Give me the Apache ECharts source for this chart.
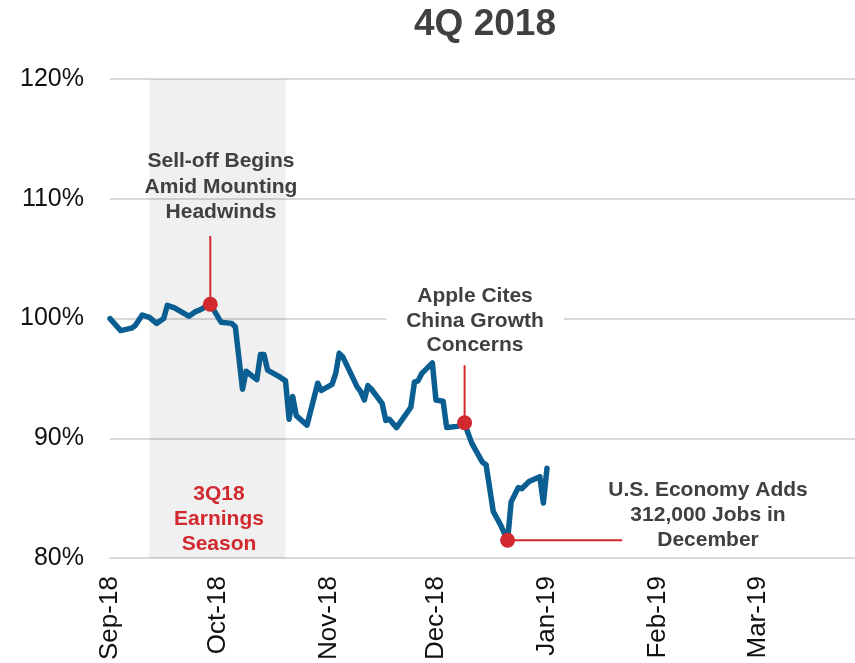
<!DOCTYPE html>
<html>
<head>
<meta charset="utf-8">
<script src="https://cdn.jsdelivr.net/npm/echarts@6/dist/echarts.min.js"></script>
<style>
  html, body { margin: 0; padding: 0; background: #ffffff; }
  #chart { width: 855px; height: 663px; }
</style>
</head>
<body>
<div id="chart"></div>
<script>
// Index level, rebased to 100% at the start of the period
const dates = [
  '2018-09-01', '2018-09-04', '2018-09-07', '2018-09-08', '2018-09-10', '2018-09-12',
  '2018-09-14', '2018-09-16', '2018-09-17', '2018-09-19', '2018-09-23', '2018-09-25',
  '2018-09-26', '2018-09-29', '2018-10-02', '2018-10-05', '2018-10-06', '2018-10-08',
  '2018-10-09', '2018-10-12', '2018-10-13', '2018-10-14', '2018-10-15', '2018-10-18',
  '2018-10-20', '2018-10-21', '2018-10-22', '2018-10-23', '2018-10-26', '2018-10-29',
  '2018-10-30', '2018-11-02', '2018-11-03', '2018-11-04', '2018-11-05', '2018-11-09',
  '2018-11-10', '2018-11-11', '2018-11-12', '2018-11-13', '2018-11-16', '2018-11-17',
  '2018-11-18', '2018-11-20', '2018-11-24', '2018-11-25', '2018-11-26', '2018-11-27',
  '2018-11-30', '2018-12-01', '2018-12-03', '2018-12-04', '2018-12-07', '2018-12-09',
  '2018-12-10', '2018-12-11', '2018-12-14', '2018-12-15', '2018-12-17', '2018-12-19',
  '2018-12-21', '2018-12-22', '2018-12-24', '2018-12-25', '2018-12-27', '2018-12-30',
  '2018-12-31', '2019-01-01'
];
const values = [
  100.0, 99.0, 99.2, 99.4, 100.3, 100.1,
  99.6, 100.0, 101.1, 100.9, 100.2, 100.6,
  100.7, 101.2, 99.7, 99.6, 99.3, 94.1,
  95.6, 94.9, 97.0, 97.0, 95.7, 95.2,
  94.8, 91.6, 93.5, 91.9, 91.1, 94.6,
  94.0, 94.5, 95.4, 97.1, 96.8, 94.3,
  93.9, 93.2, 94.4, 94.1, 92.9, 91.5,
  91.6, 90.9, 92.6, 94.7, 94.8, 95.4,
  96.3, 93.2, 93.1, 90.9, 91.0, 91.3,
  90.4, 89.6, 88.0, 87.8, 83.9, 82.8,
  81.5, 84.7, 85.9, 85.8, 86.4, 86.8,
  84.6, 87.5
];

// Month ticks on the date axis
const monthTicks = ['2018-09-01', '2018-10-01', '2018-11-01', '2018-12-01', '2019-01-01', '2019-02-01', '2019-03-01'];
const monthNames = ['Jan', 'Feb', 'Mar', 'Apr', 'May', 'Jun', 'Jul', 'Aug', 'Sep', 'Oct', 'Nov', 'Dec'];

// Value axis ticks (percent)
const yTicks = [80, 90, 100, 110, 120];

// Earnings season window
const seasonStart = '2018-09-12';
const seasonEnd = '2018-10-20';

// Highlighted events and where their leader lines end
const eventDates = ['2018-09-29', '2018-12-09', '2018-12-21'];
const leaderEnds = [
  { dir: 'up', value: 106.9 },
  { dir: 'up', value: 96.1 },
  { dir: 'right', date: '2019-01-22' }
];

const FONT = "'Liberation Sans', Arial, Helvetica, sans-serif";
const BLUE = '#0A5E92';
const RED = '#D2292F';
const GREY_TEXT = '#404040';
const DAY = 86400000;

// Dates become day numbers counted from the first axis day
const origin = Date.UTC(2018, 8, 1);
function toDay(s) {
  const p = s.split('-').map(Number);
  return Math.round((Date.UTC(p[0], p[1] - 1, p[2]) - origin) / DAY);
}
function dayLabel(n) {
  const d = new Date(origin + n * DAY);
  return monthNames[d.getUTCMonth()] + '-' + String(d.getUTCFullYear()).slice(2);
}

const lineData = dates.map((d, i) => [toDay(d), values[i]]);
const eventPoints = eventDates.map(d => [toDay(d), values[dates.indexOf(d)]]);

const leaderSeries = eventPoints.map((pt, i) => {
  const end = leaderEnds[i];
  const other = end.dir === 'up' ? [pt[0], end.value] : [toDay(end.date), pt[1]];
  return {
    type: 'line',
    data: [pt, other],
    symbol: 'none',
    silent: true,
    z: 3,
    lineStyle: { color: RED, width: 2 }
  };
});

const chart = echarts.init(document.getElementById('chart'), null, { renderer: 'canvas' });

chart.setOption({
  animation: false,
  backgroundColor: '#ffffff',
  grid: { left: 110, right: 0, top: 79, bottom: 103 },
  xAxis: {
    type: 'value',
    min: 0,
    max: toDay('2019-03-28'),
    axisLine: { show: true, onZero: false, lineStyle: { color: '#D9D9D9', width: 2 } },
    axisTick: { show: false },
    splitLine: { show: false },
    axisLabel: {
      rotate: 90,
      margin: 18,
      fontSize: 26,
      fontFamily: FONT,
      color: '#111111',
      customValues: monthTicks.map(toDay),
      formatter: function (v) { return dayLabel(v); }
    }
  },
  yAxis: {
    type: 'value',
    min: yTicks[0],
    max: yTicks[yTicks.length - 1],
    interval: 10,
    axisLine: { show: false },
    axisTick: { show: false },
    splitLine: { lineStyle: { color: '#D9D9D9', width: 2 } },
    axisLabel: {
      margin: 26,
      fontSize: 25,
      fontFamily: FONT,
      color: '#111111',
      formatter: '{value}%'
    }
  },
  series: [
    {
      type: 'line',
      data: lineData,
      symbol: 'none',
      z: 2,
      lineStyle: { color: BLUE, width: 5.5, join: 'round', cap: 'round' },
      markArea: {
        silent: true,
        itemStyle: { color: 'rgba(0,0,0,0.058)' },
        data: [[{ xAxis: toDay(seasonStart), yAxis: yTicks[0] }, { xAxis: toDay(seasonEnd), yAxis: yTicks[yTicks.length - 1] }]]
      }
    },
    ...leaderSeries,
    {
      type: 'scatter',
      data: eventPoints,
      symbol: 'circle',
      symbolSize: 15,
      z: 5,
      itemStyle: { color: RED, opacity: 1 }
    }
  ],
  graphic: [
    {
      type: 'text', x: 485, y: 25, z: 10,
      style: {
        text: '4Q 2018', fill: GREY_TEXT, font: 'bold 37px ' + FONT,
        textAlign: 'center', textVerticalAlign: 'middle'
      }
    },
    {
      type: 'text', x: 221, y: 187, z: 10,
      style: {
        text: 'Sell-off Begins\nAmid Mounting\nHeadwinds', fill: GREY_TEXT,
        font: 'bold 21px ' + FONT, lineHeight: 25.5,
        textAlign: 'center', textVerticalAlign: 'middle'
      }
    },
    {
      type: 'text', x: 475, y: 321, z: 10,
      style: {
        text: 'Apple Cites\nChina Growth\nConcerns', fill: GREY_TEXT,
        font: 'bold 21px ' + FONT, lineHeight: 24.5,
        textAlign: 'center', textVerticalAlign: 'middle',
        backgroundColor: '#ffffff', padding: [0, 20]
      }
    },
    {
      type: 'text', x: 708, y: 515, z: 10,
      style: {
        text: 'U.S. Economy Adds\n312,000 Jobs in\nDecember', fill: GREY_TEXT,
        font: 'bold 21px ' + FONT, lineHeight: 25,
        textAlign: 'center', textVerticalAlign: 'middle'
      }
    },
    {
      type: 'text', x: 219, y: 519, z: 10,
      style: {
        text: '3Q18\nEarnings\nSeason', fill: RED,
        font: 'bold 21px ' + FONT, lineHeight: 25,
        textAlign: 'center', textVerticalAlign: 'middle'
      }
    }
  ]
});
</script>
</body>
</html>
